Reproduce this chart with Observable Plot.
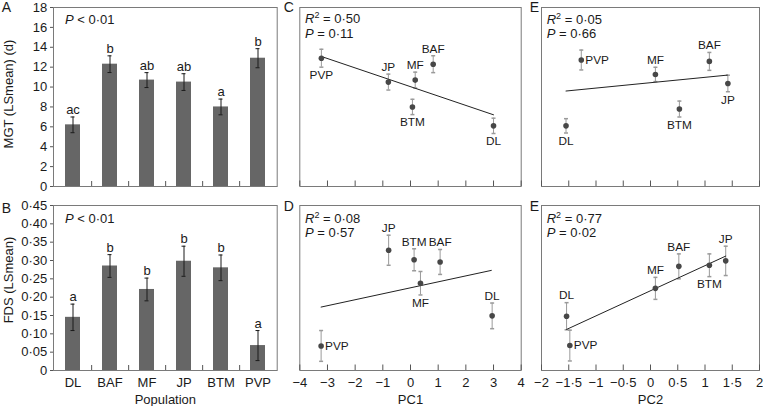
<!DOCTYPE html>
<html><head><meta charset="utf-8">
<script src="https://cdn.jsdelivr.net/npm/d3@7"></script>
<script src="https://cdn.jsdelivr.net/npm/@observablehq/plot@0.6"></script>
<style>
body{margin:0;background:#fff;}
#fig{position:relative;width:763px;height:406px;overflow:hidden;background:#fff;}
</style></head><body><div id="fig"></div>
<script>
// ---------- data ----------
const populations = ["DL","BAF","MF","JP","BTM","PVP"];
// Panel A: MGT (LSmean) (d)
const mgtMean = [6.2, 12.3, 10.7, 10.5, 8.0, 12.9];
const mgtErr  = [0.79, 0.84, 0.75, 0.84, 0.79, 0.96];
const mgtLetters = ["ac","b","ab","ab","a","b"];
const mgtTicks = [0,2,4,6,8,10,12,14,16,18];
// Panel B: FDS (LSmean)
const fdsMean = [0.145, 0.285, 0.221, 0.298, 0.280, 0.068];
const fdsErr  = [0.036, 0.031, 0.031, 0.041, 0.035, 0.041];
const fdsLetters = ["a","b","b","b","b","a"];
const fdsTicks = [0,0.05,0.10,0.15,0.20,0.25,0.30,0.35,0.40,0.45];
// Panel C: MGT vs PC1
const pc1C = [3.0, 0.82, 0.17, -0.80, 0.07, -3.22];
const mgtC = [6.1, 12.3, 10.7, 10.5, 8.0, 12.9];
const errC = [0.77, 0.85, 0.8, 0.8, 0.77, 0.9];
const fitCx = [-3.12, 3.0], fitCy = [12.98, 7.21];
// Panel D: FDS vs PC1
const pc1D = [2.95, 1.07, 0.36, -0.79, 0.13, -3.23];
const fdsD = [0.149, 0.296, 0.238, 0.328, 0.302, 0.067];
const errD = [0.035, 0.034, 0.032, 0.041, 0.030, 0.042];
const fitDx = [-3.23, 2.92], fitDy = [0.173, 0.273];
// Panel E (top): MGT vs PC2
const pc2E1 = [-1.55, 1.08, 0.09, 1.42, 0.53, -1.27];
const mgtE1 = [6.1, 12.58, 11.27, 10.36, 7.79, 12.72];
const errE1 = [0.72, 0.9, 0.72, 0.83, 0.8, 1.0];
const fitE1x = [-1.55, 1.41], fitE1y = [9.6, 11.2];
// Panel E (bottom): FDS vs PC2
const pc2E2 = [-1.54, 0.52, 0.09, 1.38, 1.08, -1.48];
const fdsE2 = [0.148, 0.284, 0.224, 0.299, 0.287, 0.068];
const errE2 = [0.037, 0.034, 0.030, 0.040, 0.031, 0.042];
const fitE2x = [-1.54, 1.38], fitE2y = [0.112, 0.312];
// statistics
const r2Values = [0.50, 0.08, 0.05, 0.77];
const pValues  = [0.11, 0.57, 0.66, 0.02];
const pc1Ticks = [-4,-3,-2,-1,0,1,2,3,4];
const pc2Ticks = [-2,-1.5,-1,-0.5,0,0.5,1,1.5,2];
// label placement per point (DL, BAF, MF, JP, BTM, PVP)
const placeC  = ["below","above","above","above","below","below"];
const placeD  = ["above","above","below","above","above","right"];
const placeE1 = ["below","above","above","below","below","right"];
const placeE2 = ["above","above","above","above","below","right"];

// ---------- style ----------
const FONT = "'Liberation Sans', Arial, Helvetica, sans-serif";
const TEXT = "#1a1a1a", FRAME = "#7a7a7a", BAR = "#666666", TICK = "#555555";
const DOT = "#474747", ERRL = "#9a9a9a", ERRD = "#1a1a1a", LINE = "#222222";
const style = {fontFamily: FONT, fontSize: "13px", color: TEXT, background: "transparent", overflow: "visible"};
const fig = document.getElementById("fig");

const mid = d => d.toFixed(2).replace(".", "\u00b7");
const fmtDot = d => d === 0 ? "0" : String(d).replace("-", "\u2212").replace(".", "\u00b7");
const fmtFds = d => d === 0 ? "0" : mid(d);

function mount(svg, left, top) {
  svg.style.position = "absolute";
  svg.style.left = left + "px";
  svg.style.top = top + "px";
  fig.appendChild(svg);
}

// segments: [text, italic, superscript]
function richText(lines, x0, y0, gap) {
  return () => {
    const g = d3.create("svg:g").attr("fill", TEXT).attr("font-size", 13)
      .attr("font-family", FONT).attr("text-anchor", "start");
    lines.forEach((segs, i) => {
      const t = g.append("text").attr("x", x0).attr("y", y0 + i * gap).attr("dy", "0.35em");
      let raised = false;
      segs.forEach(([s, it, sup]) => {
        const sp = t.append("tspan").attr("font-style", it ? "italic" : null).text(s);
        if (sup) { sp.attr("font-size", 9).attr("dy", -5); raised = true; }
        else if (raised) { sp.attr("dy", 5); raised = false; }
      });
    });
    return g.node();
  };
}

const capSymbol = {draw(ctx, size) { const r = Math.sqrt(size / Math.PI); ctx.moveTo(-r, 0); ctx.lineTo(r, 0); }};

// row geometry
const TOP = {top: 0, height: 194, mt: 7, mb: 8};
const BOT = {top: 194, height: 212, mt: 11, mb: 36};

function barPanel({values, errs, letters, yDomain, yTicks, yFmt, yTitle, titleDy, letter, letterDy, statDy, showX, row}) {
  const W = 280, ml = 53, mr = 3.3;
  const innerW = W - ml - mr, innerH = row.height - row.mt - row.mb, step = innerW / populations.length;
  const data = populations.map((pop, i) => ({pop, v: values[i], lo: values[i] - errs[i], hi: values[i] + errs[i], letter: letters[i]}));
  const marks = [
    Plot.barY(data, {x: "pop", y: "v", fill: BAR}),
    Plot.frame({stroke: FRAME}),
    Plot.tickX(populations.slice(0, -1), {x: d => d, dx: step / 2, insetTop: innerH - 5, stroke: TICK}),
    Plot.ruleX(data, {x: "pop", y1: "lo", y2: "hi", stroke: ERRD}),
    Plot.tickY(data, {x: "pop", y: "lo", stroke: ERRD, insetLeft: 5.5, insetRight: 5.5}),
    Plot.tickY(data, {x: "pop", y: "hi", stroke: ERRD, insetLeft: 5.5, insetRight: 5.5}),
    Plot.text(data, {x: "pop", y: "hi", text: "letter", dy: -7, fill: TEXT}),
    Plot.axisY(yTicks, {tickSize: 3, tickPadding: 3.3, tickFormat: yFmt, label: null, stroke: TICK, fill: TEXT}),
    Plot.text([yTitle], {frameAnchor: "left", rotate: -90, dx: -45, dy: titleDy, textAnchor: "middle", lineAnchor: "middle", fill: TEXT}),
    Plot.text([letter], {frameAnchor: "top-left", dx: -47, dy: letterDy, fontSize: 14, textAnchor: "middle", lineAnchor: "middle", fill: TEXT}),
    richText([[["P", 1], [" < 0\u00b701"]]], ml + 12, row.mt + statDy, 14)
  ];
  if (showX) {
    marks.push(Plot.axisX({tickSize: 0, tickPadding: 7, label: null, fill: TEXT}));
    marks.push(Plot.text(["Population"], {frameAnchor: "bottom", dy: 29, textAnchor: "middle", lineAnchor: "middle", fill: TEXT}));
  }
  const svg = Plot.plot({
    width: W, height: row.height, marginLeft: ml, marginRight: mr, marginTop: row.mt, marginBottom: row.mb,
    style,
    x: {type: "band", domain: populations, paddingInner: 0.6, paddingOuter: 0.3, align: 0.5, axis: showX ? undefined : null},
    y: {domain: yDomain},
    marks
  });
  mount(svg, 0, row.top);
}

function scatterPanel({xs, ys, errs, fitX, fitY, place, xDomain, xTicks, yDomain, showX, xTitle, letter, letterDx, letterDy, statIdx, statDy, row, left, W, ml, mr}) {
  const innerH = row.height - row.mt - row.mb;
  const data = populations.map((pop, i) => ({pop, x: xs[i], y: ys[i], lo: ys[i] - errs[i], hi: ys[i] + errs[i], place: place[i]}));
  const fit = fitX.map((x, i) => ({x, y: fitY[i]}));
  const LF = 11.8;
  const marks = [
    Plot.frame({stroke: FRAME}),
    Plot.tickX(xTicks, {x: d => d, insetTop: innerH - 5.5, stroke: TICK}),
    Plot.ruleX(data, {x: "x", y1: "lo", y2: "hi", stroke: ERRL}),
    Plot.dot(data, {x: "x", y: "lo", symbol: capSymbol, r: 2, stroke: ERRL, fill: "none"}),
    Plot.dot(data, {x: "x", y: "hi", symbol: capSymbol, r: 2, stroke: ERRL, fill: "none"}),
    Plot.line(fit, {x: "x", y: "y", stroke: LINE, strokeWidth: 1}),
    Plot.dot(data, {x: "x", y: "y", r: 2.8, fill: DOT, stroke: "none"}),
    Plot.text(data.filter(d => d.place === "above"), {x: "x", y: "hi", text: "pop", dy: -7, fontSize: LF, fill: TEXT}),
    Plot.text(data.filter(d => d.place === "below"), {x: "x", y: "lo", text: "pop", dy: 8, fontSize: LF, fill: TEXT}),
    Plot.text(data.filter(d => d.place === "right"), {x: "x", y: "y", text: "pop", dx: 4, textAnchor: "start", fontSize: LF, fill: TEXT}),
    Plot.text([letter], {frameAnchor: "top-left", dx: letterDx, dy: letterDy, fontSize: 14, textAnchor: "middle", lineAnchor: "middle", fill: TEXT}),
    richText([
      [["R", 1], ["2", 0, 1], [" = " + mid(r2Values[statIdx])]],
      [["P", 1], [" = " + mid(pValues[statIdx])]]
    ], ml + 5.7, row.mt + statDy, 14.3)
  ];
  if (showX) {
    marks.push(Plot.axisX(xTicks, {tickSize: 0, tickPadding: 7, tickFormat: fmtDot, label: null, fill: TEXT}));
    marks.push(Plot.text([xTitle], {frameAnchor: "bottom", dy: 29, textAnchor: "middle", lineAnchor: "middle", fill: TEXT}));
  }
  const svg = Plot.plot({
    width: W, height: row.height, marginLeft: ml, marginRight: mr, marginTop: row.mt, marginBottom: row.mb,
    style,
    x: {domain: xDomain, axis: showX ? undefined : null},
    y: {domain: yDomain, axis: null},
    marks
  });
  mount(svg, left, row.top);
}

// Panels A & B
barPanel({values: mgtMean, errs: mgtErr, letters: mgtLetters, yDomain: [0, 18], yTicks: mgtTicks, yFmt: d => String(d),
  yTitle: "MGT (LSmean) (d)", titleDy: -3, letter: "A", letterDy: -0.3, statDy: 12.2, showX: false, row: TOP});
barPanel({values: fdsMean, errs: fdsErr, letters: fdsLetters, yDomain: [0, 0.45], yTicks: fdsTicks, yFmt: fmtFds,
  yTitle: "FDS (LSmean)", titleDy: -8, letter: "B", letterDy: 3.3, statDy: 13.8, showX: true, row: BOT});

const colC = {left: 282, W: 241, ml: 17.3, mr: 2.3};
const colE = {left: 524, W: 239, ml: 17, mr: 4};

scatterPanel({...colC, xs: pc1C, ys: mgtC, errs: errC, fitX: fitCx, fitY: fitCy, place: placeC,
  xDomain: [-4, 4], xTicks: pc1Ticks, yDomain: [0, 18], showX: false, letter: "C", letterDx: -11, letterDy: 0,
  statIdx: 0, statDy: 11.7, row: TOP});
scatterPanel({...colC, xs: pc1D, ys: fdsD, errs: errD, fitX: fitDx, fitY: fitDy, place: placeD,
  xDomain: [-4, 4], xTicks: pc1Ticks, yDomain: [0, 0.45], showX: true, xTitle: "PC1", letter: "D", letterDx: -11, letterDy: 1,
  statIdx: 1, statDy: 13.5, row: BOT});
scatterPanel({...colE, xs: pc2E1, ys: mgtE1, errs: errE1, fitX: fitE1x, fitY: fitE1y, place: placeE1,
  xDomain: [-2, 2], xTicks: pc2Ticks, yDomain: [0, 18], showX: false, letter: "E", letterDx: -7, letterDy: 0,
  statIdx: 2, statDy: 12.5, row: TOP});
scatterPanel({...colE, xs: pc2E2, ys: fdsE2, errs: errE2, fitX: fitE2x, fitY: fitE2y, place: placeE2,
  xDomain: [-2, 2], xTicks: pc2Ticks, yDomain: [0, 0.45], showX: true, xTitle: "PC2", letter: "E", letterDx: -7, letterDy: 1,
  statIdx: 3, statDy: 13.5, row: BOT});
</script></body></html>
